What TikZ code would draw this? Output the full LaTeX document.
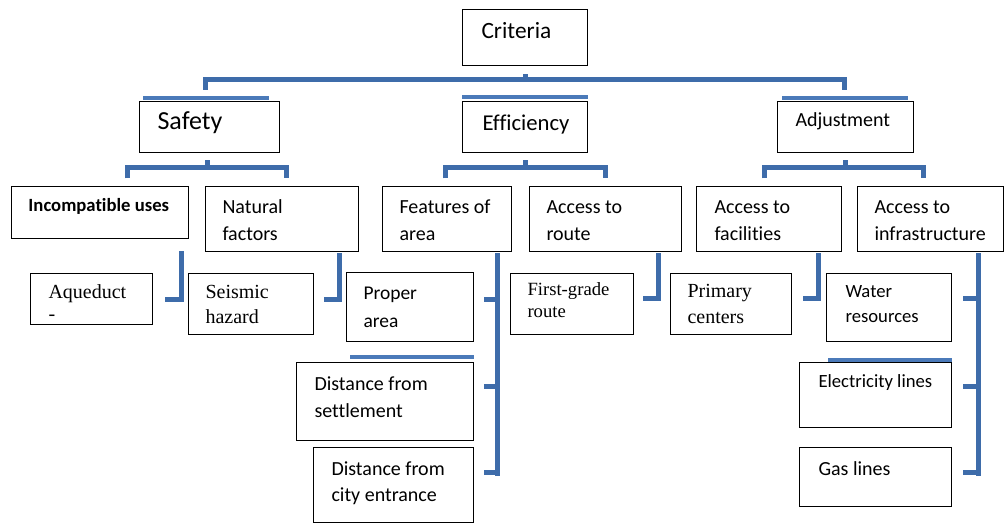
\documentclass[tikz,border=0pt]{standalone}
\usepackage{fontspec}
\setmainfont{Carlito}[Ligatures=NoCommon]
\newfontfamily\tmsfont{Liberation Serif}
\usetikzlibrary{calc}
\definecolor{linkblue}{RGB}{62,108,170}
\definecolor{rimblue}{RGB}{75,122,185}
\tikzset{every picture/.style={line width=0.75pt}}

\begin{document}
\begin{tikzpicture}[x=0.75pt,y=0.75pt,yscale=-1,
  box/.style 2 args={draw, line width=1.1pt, inner sep=0pt, anchor=north west,
    minimum width=#1*0.75pt, minimum height=#2*0.75pt},
  txt/.style={anchor=base west, inner sep=0pt, align=left},
  fs/.style 2 args={font=\fontsize{#1}{#2}\selectfont},
  serif/.style 2 args={font=\tmsfont\fontsize{#1}{#2}\selectfont},
  link/.style={draw=linkblue, line width=3.75pt},
  rim/.style={draw=rimblue, line width=2.4pt}]
\useasboundingbox (0,0) rectangle (1005,524);

%Boxes: top and second level
\node (crit) [box={125}{56}] at (462,9) {};
\node (saf) [box={140}{51}] at (139,101) {};
\node (eff) [box={125}{51}] at (462,101) {};
\node (adj) [box={136}{51}] at (777,101) {};
%Boxes: third level
\node (inc) [box={177}{52}] at (11,186) {};
\node (nat) [box={153}{65}] at (205,186) {};
\node (fea) [box={129}{65}] at (382,186) {};
\node (rou) [box={152}{65}] at (529,186) {};
\node (fac) [box={145}{65}] at (696,186) {};
\node (inf) [box={146}{65}] at (857,186) {};
%Boxes: leaves
\node (aqu) [box={122}{51}] at (30,273) {};
\node (sei) [box={125}{61}] at (188,273) {};
\node (pro) [box={127}{69}] at (346,272) {};
\node (dse) [box={177}{78}] at (296,362) {};
\node (dce) [box={160}{75}] at (313,447) {};
\node (fgr) [box={123}{61}] at (510,273) {};
\node (pri) [box={121}{61}] at (670,273) {};
\node (wat) [box={125}{68}] at (826,273) {};
\node (ele) [box={152}{65}] at (799,362) {};
\node (gas) [box={152}{59}] at (799,447) {};

%Rims above boxes
\draw [rim] ($(saf.north west)+(4,-3)$) -- ($(saf.north east)+(-11,-3)$);
\draw [rim] ($(eff.north west)+(0,-4)$) -- ($(eff.north east)+(0,-4)$);
\draw [rim] ($(adj.north west)+(5,-3)$) -- ($(adj.north east)+(-6,-3)$);
\draw [rim] ($(dse.north west)+(54,-5)$) -- ($(dse.north east)+(0,-5)$);
\draw [rim] ($(ele.north west)+(29,-2)$) -- ($(ele.north east)+(0,-2)$);

%Bracket under Criteria
\draw [link] ($(crit.south)+(0,8)$) -- ++(0,8);
\draw [link] ($(saf.north)+(-4,-11)$) |- ($(adj.north)+(-1,-21)$) -- ($(adj.north)+(-1,-11)$);
%Brackets under second level
\draw [link] ($(saf.south)+(-2,7)$) -- ++(0,7);
\draw [link] ($(saf.south)+(-82,25)$) |- ($(saf.south)+(77,14)$) -- ++(0,11);
\draw [link] ($(eff.south)+(0,7)$) -- ++(0,7);
\draw [link] ($(eff.south)+(-80,25)$) |- ($(eff.south)+(80,14)$) -- ++(0,11);
\draw [link] ($(adj.south)+(0,7)$) -- ++(0,7);
\draw [link] ($(adj.south)+(-81,25)$) |- ($(adj.south)+(78,14)$) -- ++(0,11);
%Brackets beside leaves
\draw [link] ($(inc.south east)+(-8,12)$) |- ($(aqu.east)+(12,0)$);
\draw [link] ($(nat.south east)+(-20,1)$) |- ($(sei.east)+(10,-5)$);
\draw [link] ($(rou.south east)+(-24,1)$) |- ($(fgr.east)+(9,-5.5)$);
\draw [link] ($(fac.south east)+(-24,1)$) |- ($(pri.east)+(11,-5.5)$);
\draw [link] ($(fea.south east)+(-15,1)$) -- ++(0,222.5);
\draw [link] ($(pro.east)+(10,-8)$) -- ++(15.5,0);
\draw [link] ($(dse.east)+(10,-15)$) -- ++(15.5,0);
\draw [link] ($(dce.east)+(10,-13)$) -- ++(15.5,0);
\draw [link] ($(inf.south east)+(-26,1)$) -- ++(0,222.5);
\draw [link] ($(wat.east)+(11,-9)$) -- ++(15.5,0);
\draw [link] ($(ele.east)+(11,-8.5)$) -- ++(15.5,0);
\draw [link] ($(gas.east)+(11,-4.5)$) -- ++(15.5,0);

% Text Node (two-line nodes sit on the baseline of their last line)
\node (t-crit) [txt, fs={17.5}{20}] at (481,39) {Criteria};
\node (t-saf) [txt, fs={19.5}{22}] at (157,130) {Safety};
\node (t-eff) [txt, fs={17}{20}] at (482,131) {Efficiency};
\node (t-adj) [txt, fs={15}{18}] at (795,127) {Adjustment};
% Text Node
\node (t-inc) [txt, fs={14}{17}] at (28,211) {\bfseries Incompatible uses};
\node (t-nat) [txt, fs={15}{20.25}] at (222,240) {Natural\\factors};
\node (t-fea) [txt, fs={15}{20.25}] at (399,240) {Features of\\area};
\node (t-rou) [txt, fs={15}{20.25}] at (546,240) {Access to\\route};
\node (t-fac) [txt, fs={15}{20.25}] at (714,240) {Access to\\facilities};
\node (t-inf) [txt, fs={15}{20.25}] at (874,240) {Access to\\infrastructure};
% Text Node
\node (t-aqu) [txt, serif={15}{16.5}] at (48,320) {Aqueduct\\-};
\node (t-sei) [txt, serif={15}{18.75}] at (205,323) {Seismic\\hazard};
\node (t-pro) [txt, fs={14.6}{21}] at (363,327) {Proper\\area};
\node (t-dse) [txt, fs={15}{20.25}] at (314,417) {Distance from\\settlement};
\node (t-dce) [txt, fs={15}{19.5}] at (331,501) {Distance from\\city entrance};
\node (t-fgr) [txt, serif={14}{16.5}] at (527,317) {First-grade\\route};
\node (t-pri) [txt, serif={15}{19.5}] at (687,323) {Primary\\centers};
\node (t-wat) [txt, fs={14}{18.75}] at (845,322) {Water\\resources};
\node (t-ele) [txt, fs={14}{17}] at (818,387) {Electricity lines};
\node (t-gas) [txt, fs={15}{18}] at (818,475) {Gas lines};

\end{tikzpicture}
\end{document}
